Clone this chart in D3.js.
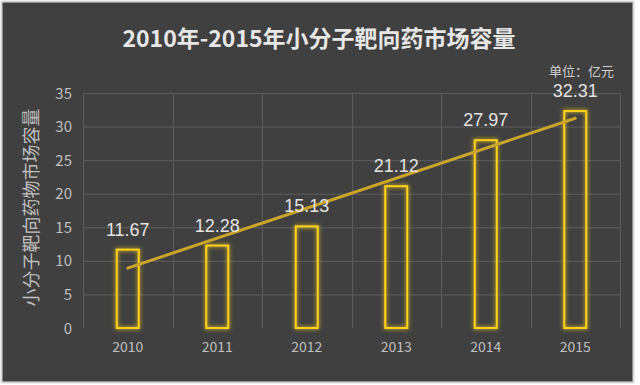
<!DOCTYPE html>
<html>
<head>
<meta charset="utf-8">
<script src="https://cdn.jsdelivr.net/npm/d3@7/dist/d3.min.js"></script>
<style>
  body { margin: 0; background: #fff; }
  svg { display: block; }
  text { font-family: "Noto Sans CJK SC", "Liberation Sans", sans-serif; }
</style>
</head>
<body>
<svg id="chart" width="640" height="385"></svg>
<script>
// values
const years = ['2010', '2011', '2012', '2013', '2014', '2015'];
const marketSize = [11.67, 12.28, 15.13, 21.12, 27.97, 32.31];
const yTicks = [0, 5, 10, 15, 20, 25, 30, 35];

const titleText = '2010年-2015年小分子靶向药市场容量';
const unitText = '单位：亿元';
const yAxisLabel = '小分子靶向药物市场容量';

const svg = d3.select('#chart');
const width = +svg.attr('width');
const height = +svg.attr('height');

const margin = { top: 93, right: 20, bottom: 57, left: 83 };
const innerWidth = width - margin.left - margin.right;
const innerHeight = height - margin.top - margin.bottom;

// dark panel with light frame
svg.append('rect')
  .attr('x', 1.5).attr('y', 1.5)
  .attr('width', width - 8).attr('height', height - 4)
  .attr('fill', '#404040')
  .attr('stroke', '#d9d9d9')
  .attr('stroke-width', 2);

const defs = svg.append('defs');
const glow = defs.append('filter')
  .attr('id', 'glow')
  .attr('x', '-50%').attr('y', '-20%')
  .attr('width', '200%').attr('height', '140%');
glow.append('feGaussianBlur')
  .attr('in', 'SourceGraphic')
  .attr('stdDeviation', 2.2)
  .attr('result', 'blur');
const merge = glow.append('feMerge');
merge.append('feMergeNode').attr('in', 'blur');
merge.append('feMergeNode').attr('in', 'SourceGraphic');

const xScale = d3.scaleBand()
  .domain(years)
  .range([0, innerWidth]);

const yScale = d3.scaleLinear()
  .domain([0, 35])
  .range([innerHeight, 0]);

const g = svg.append('g')
  .attr('transform', `translate(${margin.left},${margin.top})`);

// horizontal grid
g.append('g')
  .selectAll('line')
  .data(yTicks.filter(d => d > 0))
  .join('line')
  .attr('x1', 0).attr('x2', innerWidth)
  .attr('y1', d => yScale(d) + 0.5).attr('y2', d => yScale(d) + 0.5)
  .attr('stroke', '#5c5c5c')
  .attr('stroke-width', 1);

// vertical grid at category boundaries
const bounds = years.map(d => xScale(d)).concat([innerWidth]);
g.append('g')
  .selectAll('line')
  .data(bounds)
  .join('line')
  .attr('x1', d => Math.round(d) + 0.5).attr('x2', d => Math.round(d) + 0.5)
  .attr('y1', 0).attr('y2', innerHeight)
  .attr('stroke', '#5c5c5c')
  .attr('stroke-width', 1);

// y axis
const yAxis = d3.axisLeft(yScale)
  .tickValues(yTicks)
  .tickSize(0)
  .tickPadding(11);
const yAxisG = g.append('g').call(yAxis)
  .attr('font-size', 15)
  .attr('font-family', null);
yAxisG.select('.domain').remove();
yAxisG.selectAll('.tick line').remove();
yAxisG.selectAll('text')
  .attr('fill', '#bfbfbf')
  .attr('dy', null)
  .attr('y', 5);

// x axis
const xAxis = d3.axisBottom(xScale)
  .tickSize(0)
  .tickPadding(12);
const xAxisG = g.append('g')
  .attr('transform', `translate(0,${innerHeight})`)
  .call(xAxis)
  .attr('font-size', 14)
  .attr('font-family', null);
xAxisG.select('.domain').remove();
xAxisG.selectAll('.tick line').remove();
xAxisG.selectAll('text')
  .attr('fill', '#bfbfbf')
  .attr('dy', null)
  .attr('y', 24);

// bars
const barWidth = 22;
g.append('g')
  .selectAll('rect')
  .data(marketSize)
  .join('rect')
  .attr('x', (d, i) => xScale(years[i]) + xScale.bandwidth() / 2 - barWidth / 2)
  .attr('y', d => yScale(d))
  .attr('width', barWidth)
  .attr('height', d => innerHeight - yScale(d))
  .attr('fill', 'none')
  .attr('stroke', '#ffd21a')
  .attr('stroke-width', 2)
  .attr('filter', 'url(#glow)');

// linear trend line (least squares over category index)
const n = marketSize.length;
const idx = d3.range(1, n + 1);
const mx = d3.mean(idx);
const my = d3.mean(marketSize);
const slope = d3.sum(idx, (x, i) => (x - mx) * (marketSize[i] - my)) /
              d3.sum(idx, x => (x - mx) * (x - mx));
const trend = [idx[0], idx[n - 1]].map(x => ({ x, y: my + slope * (x - mx) }));

const lineGen = d3.line()
  .x(d => xScale(years[d.x - 1]) + xScale.bandwidth() / 2)
  .y(d => yScale(d.y));

g.append('path')
  .datum(trend)
  .attr('d', lineGen)
  .attr('fill', 'none')
  .attr('stroke', '#c9a52c')
  .attr('stroke-width', 3)
  .attr('stroke-linecap', 'round');

// data labels
g.append('g')
  .selectAll('text')
  .data(marketSize)
  .join('text')
  .attr('x', (d, i) => xScale(years[i]) + xScale.bandwidth() / 2)
  .attr('y', d => yScale(d) - 14)
  .attr('text-anchor', 'middle')
  .attr('fill', '#e3e3e3')
  .style('font-family', '"Liberation Sans", Arial, sans-serif')
  .style('font-size', '18px')
  .text(d => d.toFixed(2));

// title
svg.append('text')
  .attr('x', 319)
  .attr('y', 47)
  .attr('text-anchor', 'middle')
  .attr('fill', '#e6e6e6')
  .style('font-size', '23px')
  .style('font-weight', 'bold')
  .text(titleText);

svg.append('text')
  .attr('x', 614)
  .attr('y', 76)
  .attr('text-anchor', 'end')
  .attr('fill', '#d0d0d0')
  .style('font-size', '13px')
  .text(unitText);

// y axis title
svg.append('text')
  .attr('transform', `translate(38,${margin.top + innerHeight / 2 - 3}) rotate(-90)`)
  .attr('text-anchor', 'middle')
  .attr('fill', '#bfbfbf')
  .style('font-size', '18px')
  .text(yAxisLabel);
</script>
</body>
</html>
